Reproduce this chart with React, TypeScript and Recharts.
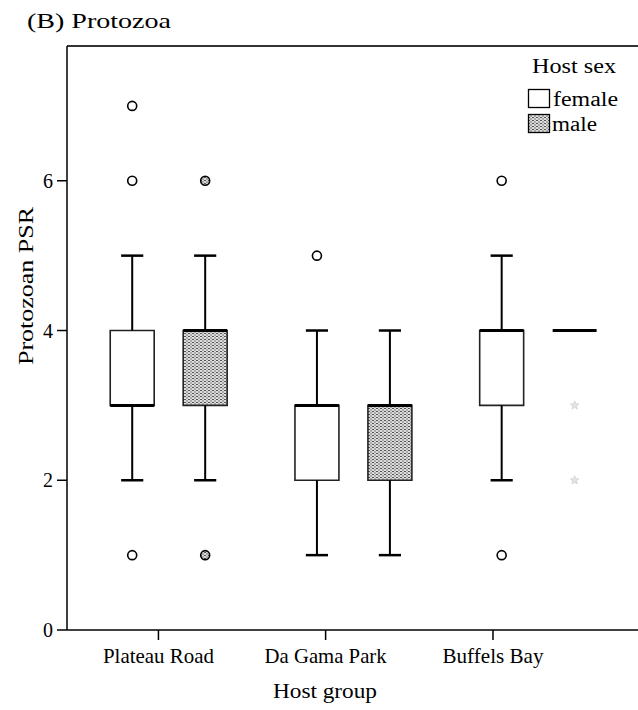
import React from 'react';
import {
  ComposedChart,
  XAxis,
  YAxis,
  ReferenceArea,
  ReferenceLine,
  Scatter,
} from 'recharts';

// Protozoan PSR by host group and host sex
const groups = ['Plateau Road', 'Da Gama Park', 'Buffels Bay'];
const sexes = ['female', 'male'];

// [min, q1, median, q3, max] for each group
const femaleStats = [
  [2, 3, 3, 4, 5],
  [1, 2, 3, 3, 4],
  [2, 3, 4, 4, 5],
];
const maleStats = [
  [2, 3, 4, 4, 5],
  [1, 2, 3, 3, 4],
  [4, 4, 4, 4, 4],
];

// circles = outliers, stars = extremes
const femaleOutliers = [[7, 6, 1], [5], [6, 1]];
const maleOutliers = [[6, 1], [], []];
const maleExtremes = [[], [], [3, 2]];

const yTicks = [0, 2, 4, 6];

// layout (x in axis units)
const W = 638;
const H = 710;
const FONT = '"Liberation Serif", "Times New Roman", serif';
const xDomain = [0.647, 3.738];
const yDomain = [0, 7.8];
const tickPos = [1.142, 2.047, 2.953];
const tickWidths = [111, 122, 101];
const sexOffset = [0, 0.395];
const boxHalf = 0.119;
const capHalf = 0.06;
const FILL_MALE = 'url(#maleDots)';

const statsBySex = [femaleStats, maleStats];
const outliersBySex = [femaleOutliers, maleOutliers];
const extremesBySex = [[[], [], []], maleExtremes];

const boxes = groups.flatMap((g, gi) =>
  sexes.map((s, si) => ({
    key: `${g}-${s}`,
    x: gi + 1 + sexOffset[si],
    stats: statsBySex[si][gi],
    fill: si === 1 ? FILL_MALE : '#ffffff',
    outliers: outliersBySex[si][gi],
    extremes: extremesBySex[si][gi],
  }))
);

const circlePoints = boxes.flatMap((b) =>
  b.outliers.map((v) => ({ x: b.x, y: v, fill: b.fill }))
);
const starPoints = boxes.flatMap((b) => b.extremes.map((v) => ({ x: b.x, y: v })));

const OutlierDot = (props: any) => {
  const { cx, cy, payload } = props;
  return <circle cx={cx} cy={cy} r={4.5} fill={payload.fill} stroke="#000" strokeWidth={1.6} />;
};

// small five-point star for extreme values
const StarDot = (props: any) => {
  const { cx, cy } = props;
  const pts: string[] = [];
  for (let i = 0; i < 10; i++) {
    const r = i % 2 === 0 ? 4.5 : 1.9;
    const a = -Math.PI / 2 + (i * Math.PI) / 5;
    pts.push(`${cx + r * Math.cos(a)},${cy + r * Math.sin(a)}`);
  }
  return <polygon points={pts.join(' ')} fill="#e4e4e4" stroke="#cfcfcf" strokeWidth={0.8} />;
};

const GroupTick = (props: any) => {
  const { x, y, index } = props;
  return (
    <text
      x={x}
      y={y + 17}
      textAnchor="middle"
      fontFamily={FONT}
      fontSize={21}
      fill="#000"
      textLength={tickWidths[index]}
      lengthAdjust="spacingAndGlyphs"
    >
      {groups[index]}
    </text>
  );
};

const ValueTick = (props: any) => {
  const { x, y, payload } = props;
  return (
    <text x={x} y={y + 7} textAnchor="end" fontFamily={FONT} fontSize={20} fill="#000">
      {payload.value}
    </text>
  );
};

const boxElements = (b: (typeof boxes)[number]) => {
  const [min, q1, med, q3, max] = b.stats;
  const x0 = b.x - boxHalf;
  const x1 = b.x + boxHalf;
  const els: React.ReactNode[] = [];
  if (max > q3) {
    els.push(
      <ReferenceLine key={`${b.key}-uw`} segment={[{ x: b.x, y: q3 }, { x: b.x, y: max }]} stroke="#000" strokeWidth={2} />,
      <ReferenceLine key={`${b.key}-uc`} segment={[{ x: b.x - capHalf, y: max }, { x: b.x + capHalf, y: max }]} stroke="#000" strokeWidth={2.5} />
    );
  }
  if (min < q1) {
    els.push(
      <ReferenceLine key={`${b.key}-lw`} segment={[{ x: b.x, y: min }, { x: b.x, y: q1 }]} stroke="#000" strokeWidth={2} />,
      <ReferenceLine key={`${b.key}-lc`} segment={[{ x: b.x - capHalf, y: min }, { x: b.x + capHalf, y: min }]} stroke="#000" strokeWidth={2.5} />
    );
  }
  if (q3 > q1) {
    els.push(
      <ReferenceArea key={`${b.key}-box`} x1={x0} x2={x1} y1={q1} y2={q3} fill={b.fill} fillOpacity={1} stroke="#222" strokeWidth={1.6} />
    );
  }
  els.push(
    <ReferenceLine key={`${b.key}-med`} segment={[{ x: x0, y: med }, { x: x1, y: med }]} stroke="#000" strokeWidth={3} />
  );
  return els;
};

const Overlay = () => (
  <svg width={W} height={H} style={{ position: 'absolute', left: 0, top: 0, pointerEvents: 'none' }}>
    <defs>
      <pattern id="maleDots" width={4} height={3} patternUnits="userSpaceOnUse">
        <rect width={4} height={3} fill="#dcdcdc" />
        <rect x={0} y={0} width={2} height={1} fill="#555" />
        <rect x={2} y={1.5} width={2} height={1} fill="#777" />
      </pattern>
    </defs>
    <g fontFamily={FONT} fill="#000">
      <text x={27} y={28} fontSize={22} textLength={144} lengthAdjust="spacingAndGlyphs">
        (B) Protozoa
      </text>
      <text
        x={33}
        y={286}
        fontSize={21}
        textAnchor="middle"
        transform="rotate(-90 33 286)"
        textLength={158}
        lengthAdjust="spacingAndGlyphs"
      >
        Protozoan PSR
      </text>
      <text x={325} y={698} fontSize={21} textAnchor="middle" textLength={104} lengthAdjust="spacingAndGlyphs">
        Host group
      </text>
      <text x={574} y={73} fontSize={20} textAnchor="middle" textLength={84} lengthAdjust="spacingAndGlyphs">
        Host sex
      </text>
      <rect x={528.5} y={89.5} width={21} height={18} fill="#fff" stroke="#000" strokeWidth={1.3} />
      <text x={553} y={106} fontSize={20} textLength={65} lengthAdjust="spacingAndGlyphs">
        female
      </text>
      <rect x={528.5} y={114.5} width={21} height={18} fill={FILL_MALE} stroke="#000" strokeWidth={1.3} />
      <text x={552} y={131} fontSize={20} textLength={45} lengthAdjust="spacingAndGlyphs">
        male
      </text>
    </g>
  </svg>
);

export default function App() {
  return (
    <div style={{ position: 'absolute', left: 0, top: 0, width: W, height: H, overflow: 'hidden', background: '#fff' }}>
      <ComposedChart width={W} height={H} margin={{ top: 46, right: 0, bottom: 40, left: 7 }}>
        <XAxis
          type="number"
          dataKey="x"
          domain={xDomain}
          allowDataOverflow
          ticks={tickPos}
          interval={0}
          tick={<GroupTick />}
          tickSize={10}
          tickMargin={6}
          height={40}
          axisLine={{ stroke: '#000', strokeWidth: 1.5 }}
          tickLine={{ stroke: '#000', strokeWidth: 1.5 }}
        />
        <YAxis
          type="number"
          dataKey="y"
          domain={yDomain}
          allowDataOverflow
          ticks={yTicks}
          interval={0}
          tick={<ValueTick />}
          tickSize={10}
          tickMargin={4}
          width={60}
          axisLine={{ stroke: '#000', strokeWidth: 1.5 }}
          tickLine={{ stroke: '#000', strokeWidth: 1.5 }}
        />
        {/* top edge of the frame */}
        <ReferenceLine y={yDomain[1]} stroke="#333" strokeWidth={1.8} />
        {boxes.flatMap(boxElements)}
        <Scatter data={circlePoints} shape={<OutlierDot />} isAnimationActive={false} />
        <Scatter data={starPoints} shape={<StarDot />} isAnimationActive={false} />
      </ComposedChart>
      <Overlay />
    </div>
  );
}
